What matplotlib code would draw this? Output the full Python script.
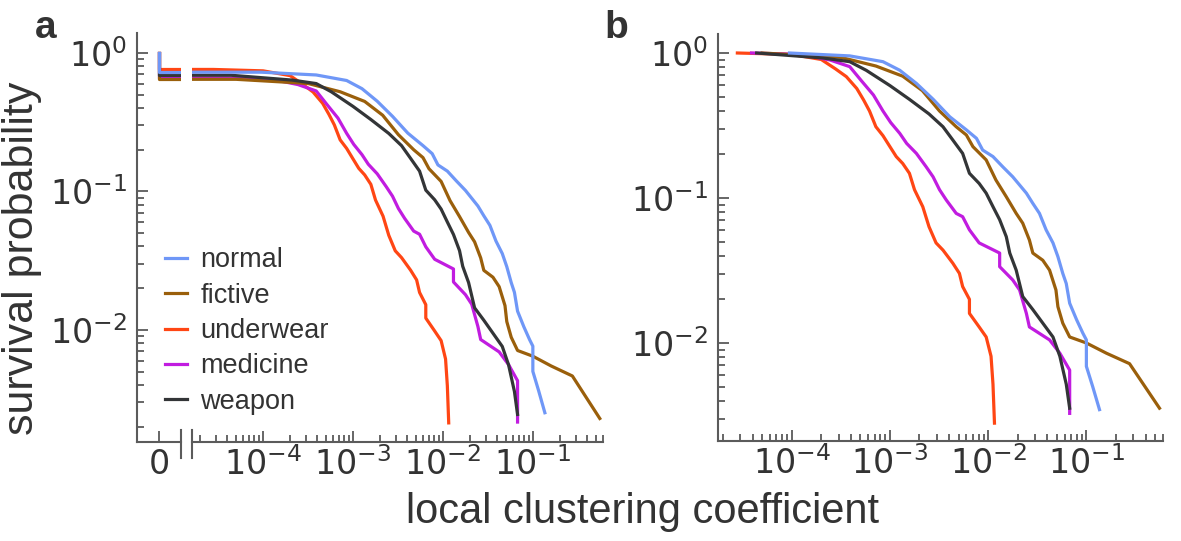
import matplotlib
matplotlib.use("Agg")
import matplotlib.pyplot as plt
from matplotlib.ticker import LogLocator, NullFormatter

# survival curves over nodes with nonzero clustering (panel b)
normal_x = [9.5e-5, 3.9e-4, 8.5e-4, 1.26e-3, 1.86e-3, 2.75e-3, 4.07e-3, 6.0e-3, 7.6e-3, 8.8e-3,
            0.0112, 0.0141, 0.0178, 0.0245, 0.0285, 0.0333, 0.0389, 0.0457, 0.0513, 0.0575,
            0.0624, 0.0676, 0.0794, 0.092, 0.1, 0.1, 0.116, 0.136]
normal_y = [1, 0.955, 0.871, 0.76, 0.617, 0.48, 0.363, 0.295, 0.258, 0.214,
            0.193, 0.164, 0.14, 0.108, 0.0918, 0.0783, 0.0603, 0.049, 0.0394, 0.0302,
            0.0257, 0.0188, 0.0145, 0.0117, 0.0105, 0.0069, 0.005, 0.00347]

fictive_x = [5.0e-5, 3.16e-4, 7.2e-4, 1.35e-3, 2.14e-3, 3.2e-3, 4.73e-3, 6.0e-3, 7.0e-3, 9.55e-3,
             0.012, 0.0153, 0.0193, 0.0225, 0.0263, 0.0285, 0.036, 0.0422, 0.049, 0.0513,
             0.0575, 0.0676, 0.1, 0.16, 0.275, 0.555]
fictive_y = [1, 0.933, 0.813, 0.692, 0.55, 0.398, 0.31, 0.272, 0.226, 0.183,
             0.133, 0.102, 0.0783, 0.067, 0.0513, 0.0417, 0.0372, 0.0318, 0.0232, 0.0178,
             0.0137, 0.011, 0.01, 0.0085, 0.0072, 0.00355]

underwear_x = [2.8e-5, 1.0e-4, 2.0e-4, 2.8e-4, 3.6e-4, 4.6e-4, 5.4e-4, 6.2e-4, 7.2e-4, 8.5e-4,
               1.0e-3, 1.16e-3, 1.35e-3, 1.58e-3, 1.78e-3, 2.16e-3, 2.5e-3, 2.95e-3, 3.47e-3, 4.37e-3,
               5.1e-3, 5.5e-3, 6.45e-3, 6.45e-3, 8.1e-3, 9.55e-3, 0.0107, 0.0112, 0.0116]
underwear_y = [1, 0.977, 0.902, 0.776, 0.687, 0.569, 0.474, 0.398, 0.31, 0.269,
               0.226, 0.193, 0.173, 0.148, 0.114, 0.0871, 0.0634, 0.049, 0.0437, 0.0355,
               0.0302, 0.0245, 0.02, 0.016, 0.0129, 0.011, 0.0081, 0.0052, 0.0028]

medicine_x = [3.9e-5, 1.26e-4, 2.45e-4, 3.9e-4, 5.1e-4, 6.8e-4, 8.5e-4, 1.02e-3, 1.26e-3, 1.48e-3,
              1.86e-3, 2.34e-3, 2.75e-3, 3.2e-3, 3.75e-3, 4.73e-3, 5.5e-3, 6.45e-3, 8.1e-3, 0.0131,
              0.0131, 0.0178, 0.0209, 0.0245, 0.0263, 0.0422, 0.0537, 0.0676, 0.0676]
medicine_y = [1, 0.977, 0.895, 0.805, 0.646, 0.513, 0.398, 0.331, 0.279, 0.238,
              0.203, 0.164, 0.14, 0.114, 0.0968, 0.0783, 0.0743, 0.0603, 0.049, 0.0417,
              0.0336, 0.0272, 0.0232, 0.016, 0.0129, 0.0105, 0.0085, 0.0065, 0.00327]

weapon_x = [4.4e-5, 2.1e-4, 3.9e-4, 5.75e-4, 1.0e-3, 1.58e-3, 2.5e-3, 3.47e-3, 4.37e-3, 5.5e-3,
            6.45e-3, 8.1e-3, 9.55e-3, 0.0112, 0.0131, 0.0153, 0.0166, 0.0193, 0.0225, 0.0285,
            0.0457, 0.0537, 0.0624, 0.0676]
weapon_y = [1, 0.923, 0.871, 0.759, 0.596, 0.479, 0.38, 0.31, 0.251, 0.203,
            0.148, 0.126, 0.108, 0.0871, 0.0708, 0.0541, 0.0417, 0.0318, 0.0209, 0.017,
            0.011, 0.0081, 0.0052, 0.00355]

# share of nodes with nonzero clustering (level of the panel a plateau)
nonzero_frac = {"normal": 0.726, "fictive": 0.645, "underwear": 0.76,
                "medicine": 0.66, "weapon": 0.69}

names = ["normal", "fictive", "underwear", "medicine", "weapon"]
colors = {"normal": "#6f97f7", "fictive": "#9a5f0b", "underwear": "#ff4614",
          "medicine": "#c11ce0", "weapon": "#333537"}
curves = {"normal": (normal_x, normal_y), "fictive": (fictive_x, fictive_y),
          "underwear": (underwear_x, underwear_y), "medicine": (medicine_x, medicine_y),
          "weapon": (weapon_x, weapon_y)}
draw_order = ["underwear", "medicine", "fictive", "weapon", "normal"]

spine_c = "#5b5b5b"
text_c = "#333333"
lw = 2.3
W, H = 1181, 541

fig = plt.figure(figsize=(W / 100, H / 100), dpi=100)
ax0 = fig.add_axes([137 / W, 1 - 442 / H, 44 / W, 409 / H])
ax1 = fig.add_axes([192 / W, 1 - 442 / H, 411 / W, 409 / H], sharey=ax0)
ax2 = fig.add_axes([718 / W, 1 - 441 / H, 445 / W, 407 / H])

handles = {}
for n in draw_order:
    xs, ys = curves[n]
    p = nonzero_frac[n]
    # zero clustering part
    ax0.plot([0, 0, 2], [1, p, p], color=colors[n], lw=lw)
    ax1.plot([1e-6] + xs, [p] + [p * v for v in ys], color=colors[n], lw=lw)
    handles[n], = ax2.plot(xs, ys, color=colors[n], lw=lw)

ax0.set_yscale("log")
ax0.set_ylim(10 ** -2.81, 10 ** 0.144)
ax0.set_xlim(-1, 1)
ax0.set_xticks([0])
ax0.set_xticklabels(["0"])
ax1.set_xscale("log")
ax1.set_xlim(10 ** -4.79, 10 ** -0.22)
ax2.set_xscale("log")
ax2.set_yscale("log")
ax2.set_xlim(10 ** -4.75, 10 ** -0.22)
ax2.set_ylim(10 ** -2.676, 10 ** 0.131)

for ax in (ax0, ax1, ax2):
    for s in ("top", "right"):
        ax.spines[s].set_visible(False)
    for s in ("left", "bottom"):
        ax.spines[s].set_color(spine_c)
        ax.spines[s].set_linewidth(1.5)
    ax.tick_params(which="both", direction="in", color=spine_c, width=1.3,
                   labelsize=24, labelcolor=text_c)
    ax.tick_params(which="major", length=8)
    ax.tick_params(which="minor", length=5)
    ax.tick_params(axis="y", pad=7)
    ax.tick_params(axis="x", pad=4)
    ax.set_facecolor("none")

ax1.spines["left"].set_visible(False)
ax1.tick_params(axis="y", which="both", left=False, labelleft=False)
for ax in (ax1, ax2):
    ax.xaxis.set_major_locator(LogLocator(base=10, numticks=12))
    ax.xaxis.set_minor_locator(LogLocator(base=10, subs=range(2, 10), numticks=12))
    ax.xaxis.set_minor_formatter(NullFormatter())
for ax in (ax0, ax2):
    ax.yaxis.set_minor_locator(LogLocator(base=10, subs=range(2, 10), numticks=12))
    ax.yaxis.set_minor_formatter(NullFormatter())

# axis break marks
ax0.plot([1, 1], [-0.04, 0.03], transform=ax0.transAxes, clip_on=False, color=spine_c, lw=1.5)
ax1.plot([0, 0], [-0.04, 0.03], transform=ax1.transAxes, clip_on=False, color=spine_c, lw=1.5)

leg = ax1.legend([handles[n] for n in names], names, loc="center left",
                 bbox_to_anchor=(165 / W, 1 - 331 / H), bbox_transform=fig.transFigure,
                 frameon=False, borderpad=0, borderaxespad=0, handlelength=0.8,
                 handletextpad=0.5, labelspacing=0.35,
                 prop={"family": "Liberation Sans", "size": 19.5})
for t in leg.get_texts():
    t.set_color(text_c)

fig.text(22 / W, 1 - 258 / H, "survival probability", rotation=90, ha="center", va="center",
         family="Liberation Sans", size=31, color=text_c)
fig.text(643 / W, 1 - 523 / H, "local clustering coefficient", ha="center", va="baseline",
         family="Liberation Sans", size=30, color=text_c)
fig.text(46 / W, 1 - 38 / H, "a", ha="center", va="baseline", family="Liberation Sans",
         weight="bold", size=28, color=text_c)
fig.text(616 / W, 1 - 38 / H, "b", ha="center", va="baseline", family="Liberation Sans",
         weight="bold", size=28, color=text_c)

fig.savefig("out.png", dpi=100)
